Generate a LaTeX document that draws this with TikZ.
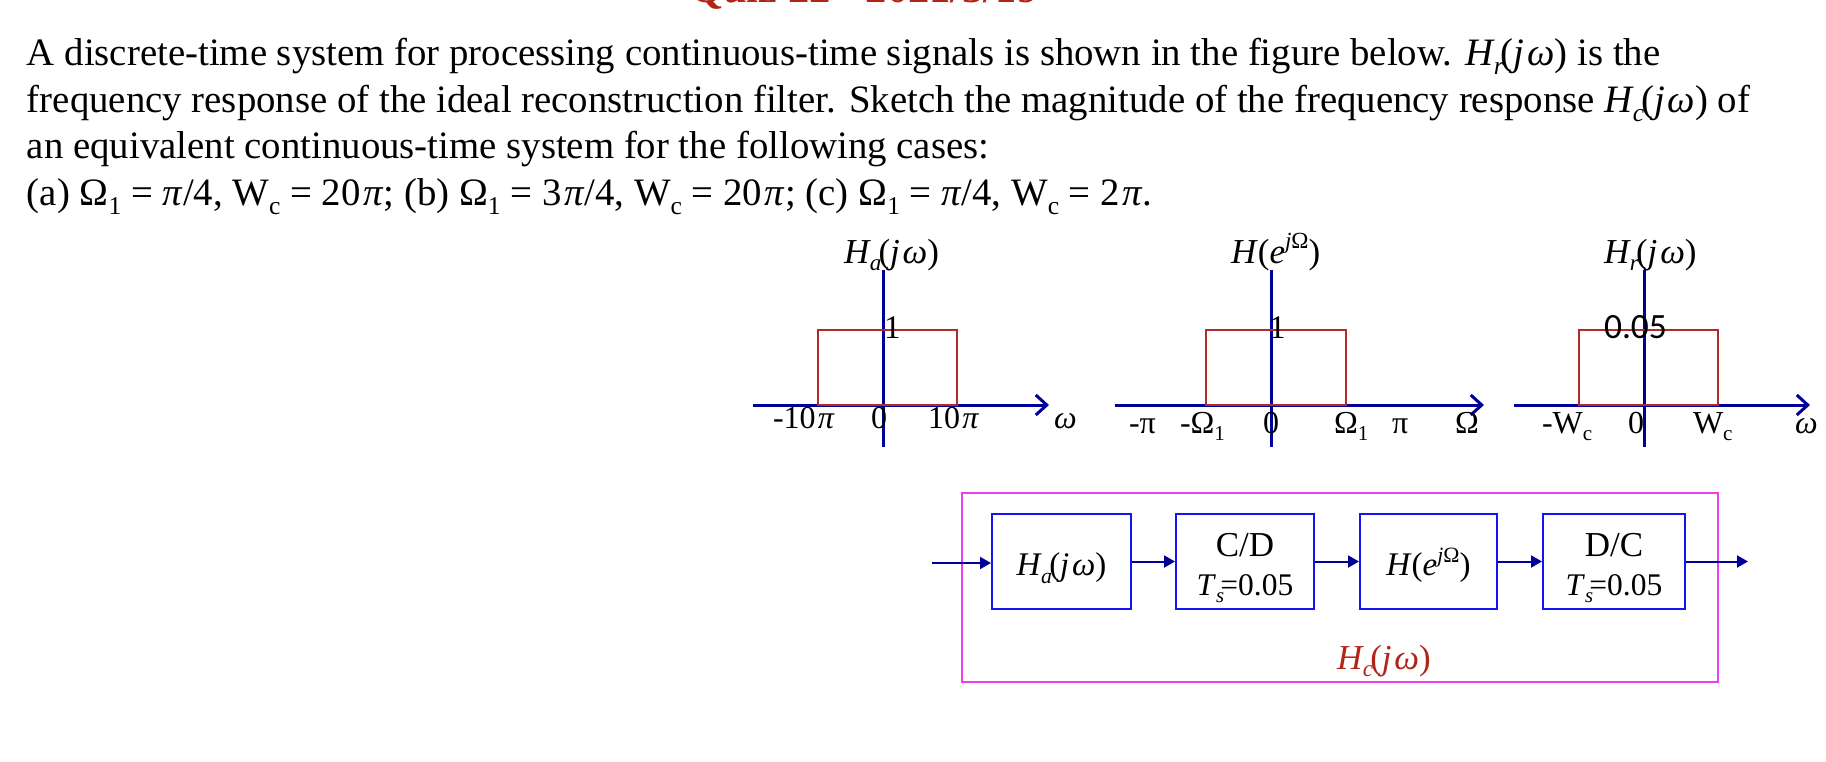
\documentclass[tikz,border=0pt]{standalone}
\usepackage{fontspec}
\setmainfont{Liberation Serif}
\newfontfamily\calfont{Carlito}
\usetikzlibrary{arrows.meta,positioning}
\definecolor{axisblue}{HTML}{000099}
\definecolor{rectred}{HTML}{B22A2A}
\definecolor{boxblue}{HTML}{1414F0}
\definecolor{boxpink}{HTML}{F03CF0}
\definecolor{titlered}{HTML}{B22418}
\newcommand{\low}[1]{\raisebox{-.22em}{\scalebox{.66}{#1}}}
\newcommand{\high}[1]{\raisebox{.42em}{\scalebox{.66}{#1}}}
\newcommand{\om}{\textit{ω}}
\newcommand{\pik}{\kern.07em\textit{π}}
\newcommand{\Hsub}[1]{\textit{H}\kern-.03em\low{\textit{#1}}\kern-.08em(\textit{j}\kern.08em\om)}
\newcommand{\Hdisc}{\textit{H}(\textit{e}\high{\textit{j}Ω})}
\newcommand{\lsize}[1]{\fontsize{#1}{39}\selectfont}
\newcommand{\topgap}{\rule{0pt}{36pt}}
\newcommand{\samp}{{\lsize{31.5}\textit{T}\low{\textit{s}}\kern-.12em=0.05}}
\tikzset{
  axisline/.style={draw=axisblue, line width=3pt},
  axisarrow/.style={axisline, -{Straight Barb[length=11pt,width=20pt,line width=3pt]}},
  rectline/.style={draw=rectred, line width=2pt},
  txt/.style={anchor=base west, inner sep=0pt, outer sep=0pt},
  ticktxt/.style={txt, font=\lsize{32}},
  headtxt/.style={txt, font=\lsize{35}},
  bodytxt/.style={txt, font=\lsize{38.8}},
  blockbox/.style={draw=boxblue, line width=2pt, inner sep=0pt, align=center, font=\lsize{33}},
  flow/.style={draw=axisblue, line width=2pt, -{Triangle[length=11pt,width=12pt]}},
}
\begin{document}
\begin{tikzpicture}[x=1pt, y=-1pt]
    \useasboundingbox (0,0) rectangle (1826,762);
    \clip (0,0) rectangle (1826,762);
    % cut title
    \node[txt, text=titlered, font=\bfseries\lsize{42.5}] (title) at (690,3) {Quiz 22 - 2021/3/19};
    % question
    \node[bodytxt] (lineA) at (27,66) {A discrete-time system for processing continuous-time signals is shown in the figure below. \Hsub{r} is the};
    \node[bodytxt] (lineB) at (27,113) {frequency response of the ideal reconstruction filter. Sketch the magnitude of the frequency response \Hsub{c} of};
    \node[bodytxt] (lineC) at (27,159) {an equivalent continuous-time system for the following cases:};
    \node[bodytxt] (lineD) at (27,206) {(a) Ω\low{1} = \textit{π}/4, W\low{c} = 20\pik; (b) Ω\low{1} = 3\pik/4, W\low{c} = 20\pik; (c) Ω\low{1} = \textit{π}/4, W\low{c} = 2\pik.};
    % the three spectra
    \foreach \name/\xl/\xv/\xa/\xb/\xt in {A/753/883.6/817.7/957.3/1049, B/1115/1271.6/1206/1345.5/1484, C/1514/1644.5/1578.7/1718/1810} {
        \coordinate (left\name) at (\xl,405);
        \coordinate (tip\name) at (\xt,405);
        \coordinate (top\name) at (\xv,270);
        \coordinate (bot\name) at (\xv,447);
        \draw[axisarrow] (left\name) -- (tip\name);
        \draw[axisline] (top\name) -- (bot\name);
        \draw[rectline] (\xa,405) rectangle (\xb,330);
    }
    \node[headtxt] (headA) at (844,263) {\Hsub{a}};
    \node[headtxt] (headB) at (1231,263) {\Hdisc};
    \node[headtxt] (headC) at (1604,263) {\Hsub{r}};
    \node[txt, font=\lsize{33}] (oneA) at (884,338) {1};
    \node[txt, font=\lsize{33}] (oneB) at (1269,338) {1};
    \node[txt, font=\calfont\lsize{35.5}] (oneC) at (1604,338) {0.05};
    \foreach \name/\xp/\yp/\lab in {aa/773/428/-10\pik, ab/871/428/0, ac/928/428/10\pik, ad/1054/428/\om,
        ba/1129/433/-π, bb/1180/433/-Ω\low{1}, bc/1263/433/0, bd/1334/433/Ω\low{1}, be/1392/433/π, bf/1455/433/Ω,
        ca/1542/433/-W\low{c}, cb/1628/433/0, cc/1693/433/W\low{c}, cd/1795/433/\om}
    \node[ticktxt] (tick\name) at (\xp,\yp) {\lab};
    % block diagram
    \draw[draw=boxpink, line width=2pt] (962,493) rectangle (1718,682);
    \node[blockbox, minimum width=139pt, minimum height=95pt] (ha) at (1061.5,561.5) {\topgap\Hsub{a}};
    \node[blockbox, minimum width=138pt, minimum height=95pt] (cd) at (1245,561.5) {\topgap{\lsize{35}C/D}\\\samp};
    \node[blockbox, minimum width=137pt, minimum height=95pt] (dt) at (1428.5,561.5) {\topgap\Hdisc};
    \node[blockbox, minimum width=142pt, minimum height=95pt] (dc) at (1614,561.5) {\topgap{\lsize{35}D/C}\\\samp};
    \coordinate (sigin) at (932,563);
    \coordinate (sigout) at (1748,561.5);
    \draw[flow] (sigin) -- (sigin -| ha.west);
    \draw[flow] (ha) -- (cd);
    \draw[flow] (cd) -- (dt);
    \draw[flow] (dt) -- (dc);
    \draw[flow] (dc) -- (sigout);
    \node[txt, text=titlered, font=\lsize{35}] (hc) at (1337,669) {\Hsub{c}};
\end{tikzpicture}
\end{document}
